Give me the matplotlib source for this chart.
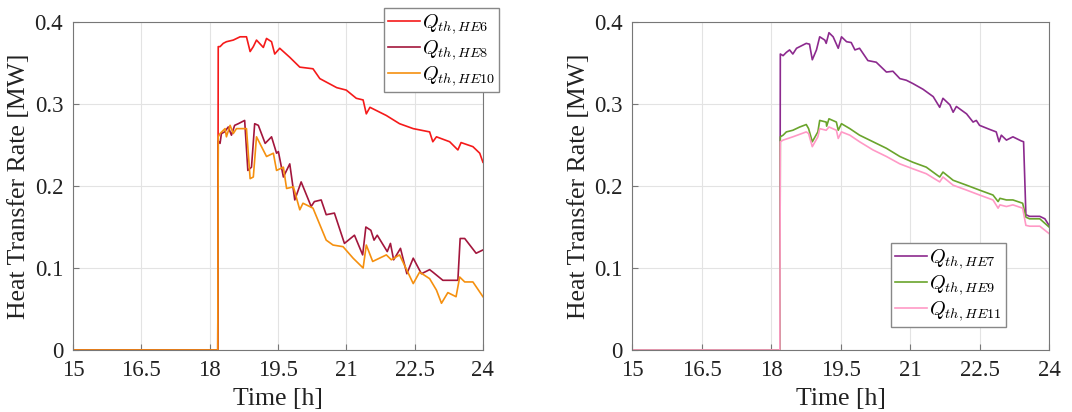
import matplotlib
matplotlib.use('Agg')
import matplotlib.pyplot as plt

plt.rcParams['font.family'] = ['Liberation Serif', 'DejaVu Serif']
plt.rcParams['mathtext.fontset'] = 'cm'

# left panel: HE6, HE8, HE10
t_he6 = [15, 18.18, 18.19, 18.23, 18.30, 18.37, 18.52, 18.67, 18.81, 18.89, 18.96, 19.03, 19.18, 19.25,
         19.36, 19.43, 19.54, 19.76, 19.98, 20.27, 20.42, 20.79, 21.00, 21.22, 21.37, 21.44, 21.52,
         21.88, 22.17, 22.47, 22.83, 22.90, 22.98, 23.27, 23.45, 23.52, 23.78, 23.93, 24.0]
q_he6 = [0, 0, 0.370, 0.370, 0.374, 0.376, 0.378, 0.382, 0.382, 0.364, 0.370, 0.378, 0.369, 0.380,
         0.376, 0.361, 0.368, 0.357, 0.345, 0.343, 0.331, 0.320, 0.317, 0.307, 0.305, 0.288, 0.296,
         0.286, 0.276, 0.270, 0.266, 0.254, 0.260, 0.254, 0.244, 0.253, 0.248, 0.240, 0.229]

t_he8 = [15, 18.18, 18.19, 18.23, 18.26, 18.33, 18.41, 18.48, 18.55, 18.63, 18.77, 18.84, 18.92,
         18.99, 19.07, 19.22, 19.36, 19.47, 19.51, 19.62, 19.76, 19.87, 20.01, 20.23, 20.30, 20.45,
         20.56, 20.74, 20.96, 21.18, 21.36, 21.43, 21.54, 21.61, 21.68, 21.90, 21.97, 22.04, 22.19,
         22.33, 22.47, 22.65, 22.83, 22.90, 23.12, 23.27, 23.45, 23.50, 23.60, 23.85, 24.0]
q_he8 = [0, 0, 0.255, 0.252, 0.264, 0.266, 0.272, 0.262, 0.274, 0.276, 0.280, 0.219, 0.223,
         0.276, 0.274, 0.252, 0.260, 0.240, 0.242, 0.211, 0.227, 0.183, 0.205, 0.175, 0.181, 0.183,
         0.165, 0.167, 0.130, 0.140, 0.116, 0.150, 0.146, 0.134, 0.140, 0.120, 0.130, 0.110, 0.124,
         0.093, 0.112, 0.093, 0.098, 0.095, 0.085, 0.085, 0.085, 0.136, 0.136, 0.118, 0.122]

t_he10 = [15, 18.18, 18.19, 18.23, 18.34, 18.37, 18.45, 18.52, 18.59, 18.81, 18.89, 18.96, 19.03,
          19.25, 19.40, 19.47, 19.62, 19.69, 19.84, 19.98, 20.05, 20.27, 20.56, 20.71, 20.93, 21.15,
          21.37, 21.44, 21.58, 21.88, 21.99, 22.17, 22.47, 22.61, 22.83, 22.98, 23.09, 23.23, 23.41,
          23.49, 23.60, 23.78, 24.0]
q_he10 = [0, 0, 0.260, 0.264, 0.270, 0.260, 0.274, 0.264, 0.270, 0.270, 0.209, 0.211, 0.260,
          0.236, 0.240, 0.219, 0.223, 0.197, 0.199, 0.171, 0.179, 0.173, 0.134, 0.128, 0.126, 0.112,
          0.100, 0.128, 0.108, 0.116, 0.110, 0.116, 0.081, 0.095, 0.087, 0.073, 0.057, 0.070, 0.065,
          0.089, 0.083, 0.083, 0.065]

# right panel: HE7, HE9, HE11
t_he7 = [15, 18.19, 18.20, 18.26, 18.33, 18.40, 18.47, 18.55, 18.69, 18.76, 18.83, 18.89, 18.98,
         19.05, 19.16, 19.19, 19.25, 19.34, 19.45, 19.52, 19.63, 19.73, 19.81, 19.91, 20.09, 20.27,
         20.49, 20.63, 20.78, 20.92, 21.06, 21.28, 21.50, 21.64, 21.71, 21.86, 21.93, 22.00, 22.22,
         22.36, 22.43, 22.50, 22.72, 22.86, 22.92, 22.97, 23.08, 23.22, 23.40, 23.45, 23.50, 23.58,
         23.80, 23.91, 24.0]
q_he7 = [0, 0, 0.361, 0.359, 0.363, 0.366, 0.361, 0.368, 0.372, 0.374, 0.373, 0.354, 0.366,
         0.382, 0.378, 0.374, 0.387, 0.382, 0.368, 0.382, 0.376, 0.375, 0.366, 0.368, 0.353, 0.351,
         0.339, 0.340, 0.331, 0.329, 0.325, 0.318, 0.309, 0.296, 0.307, 0.299, 0.290, 0.297, 0.288,
         0.278, 0.280, 0.274, 0.269, 0.266, 0.254, 0.262, 0.256, 0.260, 0.255, 0.254, 0.165, 0.163,
         0.163, 0.160, 0.152]

t_he9 = [15, 18.19, 18.20, 18.26, 18.33, 18.47, 18.62, 18.76, 18.81, 18.89, 19.01, 19.05, 19.19,
         19.20, 19.25, 19.41, 19.45, 19.52, 19.70, 19.91, 20.20, 20.49, 20.78, 21.06, 21.35, 21.64,
         21.71, 21.93, 22.22, 22.50, 22.79, 22.90, 22.94, 23.08, 23.22, 23.43, 23.50, 23.58, 23.80, 24.0]
q_he9 = [0, 0, 0.260, 0.262, 0.266, 0.268, 0.272, 0.275, 0.270, 0.254, 0.266, 0.280, 0.278,
         0.273, 0.282, 0.278, 0.268, 0.276, 0.270, 0.262, 0.254, 0.246, 0.236, 0.229, 0.223, 0.211,
         0.217, 0.207, 0.201, 0.195, 0.189, 0.181, 0.185, 0.183, 0.183, 0.179, 0.162, 0.160, 0.160, 0.150]

t_he11 = [15, 18.19, 18.20, 18.26, 18.47, 18.76, 18.81, 18.89, 19.01, 19.05, 19.19, 19.25, 19.41,
          19.45, 19.52, 19.70, 19.91, 20.20, 20.49, 20.78, 21.06, 21.35, 21.64, 21.71, 21.93, 22.22,
          22.50, 22.79, 22.90, 22.94, 23.08, 23.22, 23.43, 23.50, 23.58, 23.80, 24.0]
q_he11 = [0, 0, 0.254, 0.256, 0.260, 0.266, 0.264, 0.248, 0.260, 0.270, 0.268, 0.272, 0.268,
          0.258, 0.266, 0.262, 0.254, 0.244, 0.236, 0.227, 0.221, 0.215, 0.205, 0.211, 0.201, 0.195,
          0.189, 0.183, 0.173, 0.177, 0.175, 0.177, 0.173, 0.152, 0.151, 0.151, 0.142]

x_ticks = [15, 16.5, 18, 19.5, 21, 22.5, 24]
x_ticklabels = ['15', '16.5', '18', '19.5', '21', '22.5', '24']
y_ticks = [0, 0.1, 0.2, 0.3, 0.4]
y_ticklabels = ['0', '0.1', '0.2', '0.3', '0.4']

fig = plt.figure(figsize=(10.72, 4.12), dpi=100)
ax1 = fig.add_axes([0.068, 0.1505, 0.3825, 0.796])
ax2 = fig.add_axes([0.5896, 0.1505, 0.389, 0.796])


def style_axis(ax):
    ax.set_xlim(15, 24)
    ax.set_ylim(0, 0.4)
    ax.set_xticks(x_ticks)
    ax.set_xticklabels(x_ticklabels)
    ax.set_yticks(y_ticks)
    ax.set_yticklabels(y_ticklabels)
    ax.grid(True, color='#e3e3e3', linewidth=0.8)
    ax.set_axisbelow(True)
    for s in ax.spines.values():
        s.set_color('#777777')
        s.set_linewidth(0.8)
    ax.tick_params(direction='in', length=4, colors='#777777', labelcolor='#222222',
                   labelsize=16.5, pad=7)
    ax.set_xlabel('Time [h]', fontsize=18.5, color='#222222', labelpad=5)
    ax.set_ylabel('Heat Transfer Rate [MW]', fontsize=18.5, color='#222222', labelpad=3)


legend_kw = dict(fontsize=14.5, fancybox=False, edgecolor='#888888', framealpha=1,
                 handlelength=1.6, handletextpad=0.1, borderpad=0.2, labelspacing=0.1,
                 borderaxespad=0)

ax1.plot(t_he6, q_he6, color='#f51a1a', lw=1.2, label=r'$Q_{th,HE6}$')
ax1.plot(t_he8, q_he8, color='#a3163c', lw=1.2, label=r'$Q_{th,HE8}$')
ax1.plot(t_he10, q_he10, color='#f5900f', lw=1.2, label=r'$Q_{th,HE10}$')
style_axis(ax1)
ax1.legend(loc='upper right', bbox_to_anchor=(0.4655, 0.9806), bbox_transform=fig.transFigure,
           **legend_kw)

ax2.plot(t_he7, q_he7, color='#8c2a8e', lw=1.2, label=r'$Q_{th,HE7}$')
ax2.plot(t_he9, q_he9, color='#6aa42c', lw=1.2, label=r'$Q_{th,HE9}$')
ax2.plot(t_he11, q_he11, color='#ff99c6', lw=1.2, label=r'$Q_{th,HE11}$')
style_axis(ax2)
ax2.legend(loc='lower right', bbox_to_anchor=(0.9384, 0.2063), bbox_transform=fig.transFigure,
           **legend_kw)

fig.savefig('out.png', dpi=100)
